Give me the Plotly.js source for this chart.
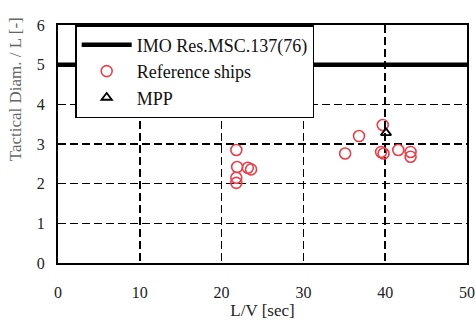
<!DOCTYPE html>
<html>
<head>
<meta charset="utf-8">
<script src="https://cdn.plot.ly/plotly-3.0.1.min.js"></script>
<style>html,body{margin:0;padding:0;background:#fff;}#chart{width:475px;height:320px;}</style>
</head>
<body>
<div id="chart"></div>
<script>
// IMO criterion line
var imoX = [0, 50];
var imoY = [5, 5];
// Reference ships: L/V [sec] and Tactical Diam./L [-]
var refX = [21.8, 21.9, 23.2, 23.6, 21.8, 21.8, 35.1, 36.8, 39.7, 39.5, 39.8, 41.6, 43.1, 43.1];
var refY = [2.85, 2.42, 2.40, 2.36, 2.15, 2.02, 2.76, 3.20, 3.48, 2.80, 2.76, 2.85, 2.80, 2.68];
// MPP
var mppX = [40.1];
var mppY = [3.28];

var serif = "Liberation Serif, Times New Roman, serif";

var traces = [
  {x: imoX, y: imoY, mode: 'lines', name: 'IMO Res.MSC.137(76)',
   line: {color: '#000', width: 4.5}},
  {x: refX, y: refY, mode: 'markers', name: 'Reference ships',
   marker: {symbol: 'circle-open', size: 11, color: '#e8404a', line: {width: 1.6, color: '#e8404a'}}},
  {x: mppX, y: mppY, mode: 'markers', name: 'MPP',
   marker: {symbol: 'triangle-up-open', size: 9, color: '#000', line: {width: 1.8, color: '#000'}}}
];

var layout = {
  width: 475, height: 320,
  margin: {l: 58, r: 8, t: 25, b: 57},
  paper_bgcolor: '#fff', plot_bgcolor: '#fff',
  font: {family: serif, color: '#222', size: 16},
  showlegend: true,
  legend: {x: 0.042, xanchor: 'left', y: 1, yanchor: 'top',
           bgcolor: '#fff', bordercolor: '#000', borderwidth: 1.5,
           font: {family: serif, size: 18, color: '#111'},
           itemwidth: 50},
  xaxis: {range: [0, 50], dtick: 10, tick0: 0,
          showline: true, mirror: true, linecolor: '#000', linewidth: 2,
          showgrid: true, gridcolor: '#000', gridwidth: 1.5, griddash: '8px,4px',
          zeroline: false, ticks: '', ticklabelstandoff: 14,
          tickfont: {family: serif, size: 16, color: '#222'},
          title: {text: 'L/V [sec]', font: {family: serif, size: 17, color: '#222'}, standoff: 4}},
  yaxis: {range: [0, 6], dtick: 1, tick0: 0,
          showline: true, mirror: true, linecolor: '#000', linewidth: 2,
          showgrid: true, gridcolor: '#000', gridwidth: 1.5, griddash: '8px,4px',
          zeroline: false, ticks: '', ticklabelstandoff: 8,
          tickfont: {family: serif, size: 16, color: '#222'}},
  annotations: [{text: 'Tactical Diam. / L [-]', textangle: -90, showarrow: false,
                 xref: 'paper', yref: 'paper', x: -0.105, y: 0.73,
                 xanchor: 'center', yanchor: 'middle',
                 font: {family: serif, size: 17, color: '#666'}}]
};

Plotly.newPlot('chart', traces, layout, {displayModeBar: false, staticPlot: true});
</script>
</body>
</html>
